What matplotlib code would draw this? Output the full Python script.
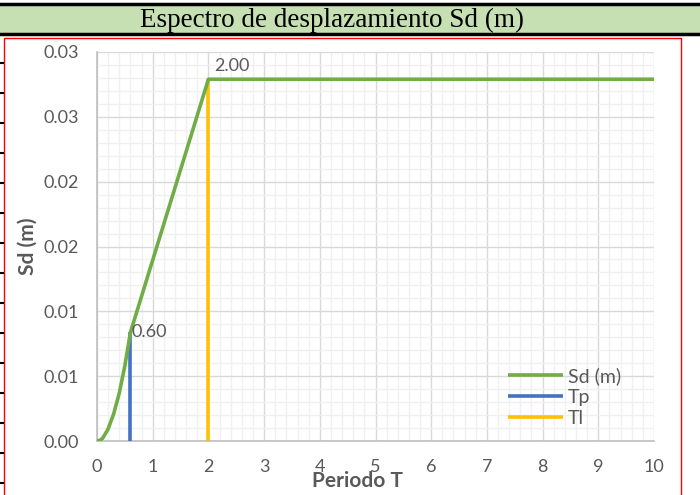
import matplotlib.pyplot as plt
from matplotlib.lines import Line2D
from matplotlib.patches import Rectangle
from matplotlib.ticker import MultipleLocator

plt.rcParams['font.family'] = ['Lato', 'DejaVu Sans']

# Espectro de desplazamiento
periodo = [0.0, 0.05, 0.1, 0.2, 0.3, 0.4, 0.5, 0.6, 0.8, 1.0, 1.2, 1.4, 1.6, 1.8, 2.0, 3.0, 4.0, 5.0, 6.0, 7.0, 8.0, 9.0, 10.0]
sd = [0.0, 0.00005, 0.0002, 0.00093, 0.0021, 0.0037, 0.0058, 0.00837, 0.01116, 0.01395, 0.01674, 0.01953, 0.02232,
      0.02511, 0.0279, 0.0279, 0.0279, 0.0279, 0.0279, 0.0279, 0.0279, 0.0279, 0.0279]

tp = 0.60
tl = 2.00
sd_tp = 0.00837
sd_tl = 0.0279

y_ticks = [0.0, 0.005, 0.01, 0.015, 0.02, 0.025, 0.03]
y_labels = ['0.00', '0.01', '0.01', '0.02', '0.02', '0.03', '0.03']
x_ticks = [0, 1, 2, 3, 4, 5, 6, 7, 8, 9, 10]

verde = '#70AD47'
azul = '#4472C4'
amarillo = '#FFC000'
gris = '#595959'

fig = plt.figure(figsize=(7, 4.95), dpi=100)

# Encabezado verde con lineas negras
fig.patches.append(Rectangle((0, 1 - 33 / 495), 1, 28 / 495, transform=fig.transFigure,
                             facecolor='#C6E0B4', edgecolor='none', zorder=0))
fig.lines.append(Line2D([0, 1], [1 - 4 / 495, 1 - 4 / 495], transform=fig.transFigure, color='black', lw=2.5))
fig.lines.append(Line2D([0, 1], [1 - 33.5 / 495, 1 - 33.5 / 495], transform=fig.transFigure, color='black', lw=2.5))
fig.text(332 / 700, 1 - 20 / 495, 'Espectro de desplazamiento Sd (m)', ha='center', va='center',
         family='Liberation Serif', fontsize=19.5, color='black')

# Marco rojo
fig.patches.append(Rectangle((4 / 700, -0.05), 677 / 700, 1.05 - 38 / 495, transform=fig.transFigure,
                             facecolor='none', edgecolor='#FF0000', lw=1.0, zorder=0))

# Marcas de celdas en el borde izquierdo
for yp in range(63, 495, 30):
    fig.lines.append(Line2D([0, 3 / 700], [1 - yp / 495, 1 - yp / 495], transform=fig.transFigure,
                            color='black', lw=1.5))

ax = fig.add_axes([97 / 700, 54 / 495, 557 / 700, 389 / 495])
ax.plot(periodo, sd, color=verde, lw=2.6, solid_capstyle='butt', label='Sd (m)', zorder=4)
ax.plot([tp, tp], [0, sd_tp], color=azul, lw=2.6, solid_capstyle='butt', label='Tp', zorder=3)
ax.plot([tl, tl], [0, sd_tl], color=amarillo, lw=2.6, solid_capstyle='butt', label='Tl', zorder=3)

ax.text(tp + 0.02, sd_tp, f'{tp:.2f}', ha='left', va='center', fontsize=13, color=gris, zorder=5)
ax.text(tl + 0.1, sd_tl + 0.0004, f'{tl:.2f}', ha='left', va='bottom', fontsize=13, color=gris, zorder=5)

ax.set_xlim(0, 10)
ax.set_ylim(0, 0.03)
ax.set_xticks(x_ticks)
ax.set_yticks(y_ticks)
ax.set_yticklabels(y_labels)
ax.xaxis.set_minor_locator(MultipleLocator(0.2))
ax.yaxis.set_minor_locator(MultipleLocator(0.001))
ax.grid(which='major', color='#D9D9D9', lw=1.0)
ax.grid(which='minor', color='#F0F0F0', lw=1.0)
ax.set_axisbelow(True)
for lado in ['top', 'right']:
    ax.spines[lado].set_visible(False)
for lado in ['left', 'bottom']:
    ax.spines[lado].set_color('#BFBFBF')
    ax.spines[lado].set_linewidth(1.2)
ax.tick_params(which='both', length=0, labelsize=13, labelcolor=gris)
ax.tick_params(axis='x', pad=13)
ax.tick_params(axis='y', pad=13)

ax.set_ylabel('Sd (m)', fontsize=15, fontweight='bold', color=gris, labelpad=4)
ax.set_xlabel('Periodo T', fontsize=15, fontweight='bold', color=gris)
ax.xaxis.set_label_coords(0.468, -0.078)

ax.legend(loc='lower left', bbox_to_anchor=(0.707, -0.008), frameon=False, fontsize=14,
          handlelength=2.8, handletextpad=0.25, labelspacing=0.2, labelcolor=gris)

fig.savefig('out.png', dpi=100)
